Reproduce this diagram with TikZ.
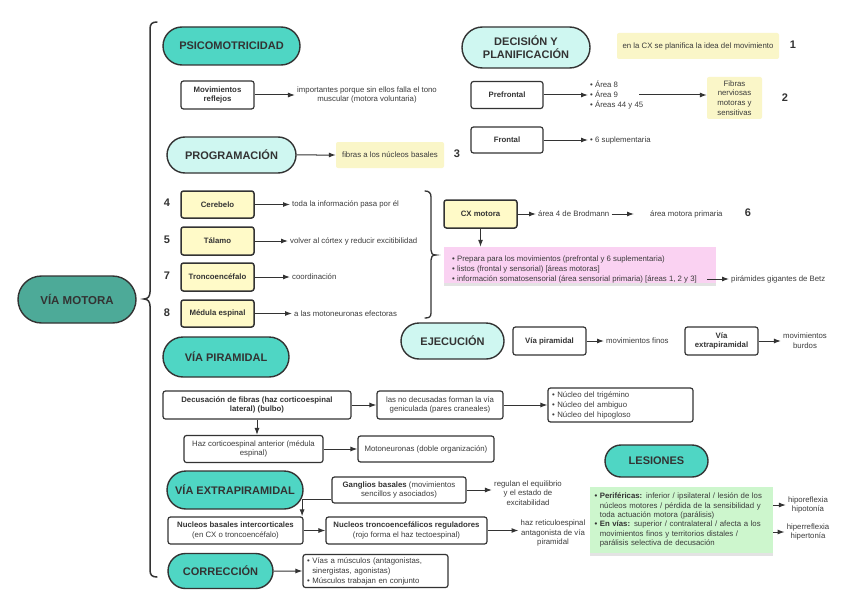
\documentclass[tikz,border=0pt]{standalone}
\usepackage{fontspec}
\setmainfont{Liberation Sans}
\usetikzlibrary{arrows.meta,shapes.misc,shadows}
\definecolor{teal1}{HTML}{4FD6C4}
\definecolor{teal2}{HTML}{4DAA98}
\definecolor{cyanl}{HTML}{CFF7F1}
\definecolor{yel}{HTML}{FFFAC8}
\definecolor{notey}{HTML}{FAF6C8}
\definecolor{pinkb}{HTML}{FAD2F2}
\definecolor{greenb}{HTML}{CDF6CD}
\definecolor{ink}{HTML}{333333}
\definecolor{txt}{HTML}{3C3C3C}
\newcommand{\bodyf}{\fontsize{7.8}{9.6}\selectfont}
\newcommand{\hdrf}{\fontsize{11}{13}\selectfont\bfseries}
\newcommand{\myind}{\phantom{•\ }}
\begin{document}
\begin{tikzpicture}[x=1pt,y=-1pt,
  sz/.style 2 args={minimum width=#1pt, minimum height=#2pt},
  hdr/.style={rounded rectangle, draw=ink, line width=1.4pt, fill=teal1, inner sep=0pt, font=\hdrf, text=ink, align=center},
  hdrl/.style={hdr, fill=cyanl},
  box/.style={rectangle, draw=ink, line width=1.2pt, rounded corners=2.5pt, fill=white, inner sep=1pt, align=center, font=\bodyf, text=txt},
  bbox/.style={box, font=\bodyf\bfseries, text=ink},
  ybox/.style={bbox, fill=yel, line width=1.5pt},
  note/.style={rectangle, fill=notey, rounded corners=2pt, inner sep=1pt, align=center, font=\bodyf, text=txt},
  lbl/.style={font=\bodyf, text=txt, inner sep=2pt, align=center},
  num/.style={font=\hdrf, text=ink, inner sep=0pt},
  arr/.style={draw=ink, line width=1pt, -{Latex[length=7pt,width=5pt]}},
  brace/.style={draw=ink, line width=1.5pt, line cap=round},
  shade/.style={drop shadow={shadow xshift=0pt, shadow yshift=-2.5pt, opacity=0.22}}
]
\fill[white] (0,0) rectangle (848,599);
\useasboundingbox (0,0) rectangle (848,599);

% main node and brace
\node[hdr, fill=teal2, sz={118}{47}, font=\fontsize{11.5}{13}\selectfont\bfseries] (vm) at (77,299.5) {VÍA MOTORA};
\draw[brace] (157,22) .. controls (152,22) and (150,24) .. (150,29) -- (150,292) .. controls (150,296) and (148,299) .. (144,299) .. controls (148,299) and (150,302) .. (150,306) -- (150,570) .. controls (150,575) and (152,577) .. (157,577);

% psicomotricidad
\node[hdr, sz={137}{38}] (psi) at (231.5,46) {PSICOMOTRICIDAD};
\node[bbox, sz={73}{28}] (movref) at (217.5,95) {Movimientos\\reflejos};
\node[lbl] (imp) at (367,95) {importantes porque sin ellos falla el tono\\muscular (motora voluntaria)};
\draw[arr] (movref) -- (imp);

% decision
\node[hdrl, sz={128}{41}] (dec) at (526,47.5) {DECISIÓN Y\\PLANIFICACIÓN};
\node[note, sz={162}{26}] (note1) at (698,46) {en la CX se planifica la idea del movimiento};
\node[num] (n1) at (793,45) {1};
\node[bbox, sz={72}{27}] (pref) at (507,95) {Prefrontal};
\node[lbl, anchor=west, align=left] (areas) at (588,95) {• Área 8\\• Área 9\\• Áreas 44 y 45};
\draw[arr] (pref) -- (areas);
\node[note, sz={55}{42}] (fib) at (734.5,98) {Fibras\\nerviosas\\motoras y\\sensitivas};
\draw[arr] ([xshift=-6pt]areas.east) -- (areas.east -| fib.west);
\node[num] (n2) at (785,98) {2};
\node[bbox, sz={72}{26}] (front) at (507,140) {Frontal};
\node[lbl, anchor=west, align=left] (supl) at (588,140) {• 6 suplementaria};
\draw[arr] (front) -- (supl);

% programacion
\node[hdrl, sz={129}{36}] (prog) at (231.5,155) {PROGRAMACIÓN};
\node[note, sz={108}{26}] (note3) at (390,155) {fibras a los núcleos basales};
\draw[arr] (prog) -- (note3);
\node[num] (n3) at (457,154) {3};

\node[ybox, sz={73}{27}] (cer) at (217.5,204.5) {Cerebelo};
\node[num] (n4) at (167,203) {4};
\node[lbl, anchor=west] (tcer) at (290,204.5) {toda la información pasa por él};
\draw[arr] (cer) -- (tcer);
\node[ybox, sz={73}{28}] (tal) at (217.5,241) {Tálamo};
\node[num] (n5) at (167,240) {5};
\node[lbl, anchor=west] (ttal) at (288,241) {volver al córtex y reducir excitibilidad};
\draw[arr] (tal) -- (ttal);
\node[ybox, sz={73}{28}] (tro) at (217.5,277) {Troncoencéfalo};
\node[num] (n7) at (167,276) {7};
\node[lbl, anchor=west] (ttro) at (290,277) {coordinación};
\draw[arr] (tro) -- (ttro);
\node[ybox, sz={73}{27}] (med) at (217.5,313.5) {Médula espinal};
\node[num] (n8) at (167,313) {8};
\node[lbl, anchor=west] (tmed) at (292,313.5) {a las motoneuronas efectoras};
\draw[arr] (med) -- (tmed);

% right brace
\draw[brace, line width=1.3pt] (425,191) .. controls (429,191) and (431,193) .. (431,197) -- (431,250) .. controls (431,253) and (432,255) .. (436,255) .. controls (432,255) and (431,257) .. (431,260) -- (431,313) .. controls (431,317) and (429,318) .. (425,318);

% CX motora
\node[ybox, sz={73}{28}] (cxm) at (480.5,214) {CX motora};
\node[lbl, anchor=west] (a4) at (536,214) {área 4 de Brodmann};
\draw[arr] (cxm) -- (a4);
\node[lbl, anchor=west] (amp) at (648,214) {área motora primaria};
\draw[arr] (a4) -- ([xshift=-14pt]amp.west);
\node[num] (n6) at (748,213) {6};
\node[rectangle, fill=pinkb, shade, sz={272}{36}, inner sep=0pt] (pink) at (580,265) {};
\node[lbl, align=left, anchor=west, font=\fontsize{7.8}{10}\selectfont] (pinktxt) at (450,269) {• Prepara para los movimientos (prefrontal y 6 suplementaria)\\• listos (frontal y sensorial) [áreas motoras]\\• información somatosensorial (área sensorial primaria) [áreas 1, 2 y 3]};
\draw[arr] (cxm) -- (cxm |- pink.north);
\coordinate (pinkout) at (707,279);
\node[lbl, anchor=west] (betz) at (729,279) {pirámides gigantes de Betz};
\draw[arr] (pinkout) -- (betz);

% ejecucion
\node[hdrl, sz={103}{36}] (ejec) at (452.5,341) {EJECUCIÓN};
\node[bbox, sz={73}{28}] (vpir) at (549.5,341) {Vía piramidal};
\node[lbl, anchor=west] (mf) at (604,341) {movimientos finos};
\draw[arr] (vpir) -- (mf);
\node[bbox, sz={73}{28}] (vext) at (721.5,341) {Vía\\extrapiramidal};
\node[lbl] (mb) at (805,341) {movimientos\\burdos};
\draw[arr] (vext) -- (mb);

% via piramidal
\node[hdr, sz={126}{40}] (vpiral) at (226,357) {VÍA PIRAMIDAL};
\node[bbox, sz={188}{28}] (decus) at (257,405) {Decusación de fibras (haz corticoespinal\\lateral) (bulbo)};
\node[box, sz={126}{28}] (nodec) at (440,405) {las no decusadas forman la vía\\geniculada (pares craneales)};
\draw[arr] (decus) -- (nodec);
\node[box, sz={145}{34}, align=left, text width=137pt, font=\fontsize{7.8}{10}\selectfont] (nuc) at (620.5,405) {• Núcleo del trigémino\\• Núcleo del ambiguo\\• Núcleo del hipogloso};
\draw[arr] (nodec) -- (nuc);
\node[box, sz={139}{27}] (hazant) at (253.5,449) {Haz corticoespinal anterior (médula\\espinal)};
\draw[arr] (decus.south) -- (decus.south |- hazant.north);
\node[box, sz={136}{26}] (moto) at (426,449) {Motoneuronas (doble organización)};
\draw[arr] (hazant) -- (moto);

% via extrapiramidal
\node[hdr, sz={136}{38}] (vextra) at (235,490) {VÍA EXTRAPIRAMIDAL};
\node[box, sz={134}{26}] (gang) at (399,490) {\textbf{\color{ink}Ganglios basales} (movimientos\\sencillos y asociados)};
\node[lbl] (reg) at (528,493) {regulan el equilibrio\\y el estado de\\excitabilidad};
\draw[arr] (gang.east) -- (gang.east -| reg.west);
\node[box, sz={135}{27}] (nbi) at (235.5,530.5) {\textbf{\color{ink}Nucleos basales intercorticales}\\(en CX o troncoencéfalo)};
\node[box, sz={161}{27}] (ntr) at (406.5,530.5) {\textbf{\color{ink}Nucleos troncoencefálicos reguladores}\\(rojo forma el haz tectoespinal)};
\draw[arr] (nbi) -- (ntr);
\node[lbl] (hret) at (553,533) {haz reticuloespinal\\antagonista de vía\\piramidal};
\draw[arr] (ntr.east) -- (ntr.east -| hret.west);
\draw[arr] ([yshift=4pt]gang.south west) -| ([xshift=-1.5pt]nbi.north east);

% correccion
\node[hdr, sz={105}{35}] (corr) at (220.5,571) {CORRECCIÓN};
\node[box, sz={145}{33}, align=left, text width=137pt, font=\fontsize{7.8}{10}\selectfont] (cbox) at (375.5,571) {• Vías a músculos (antagonistas,\\\myind sinergistas, agonistas)\\• Músculos trabajan en conjunto};
\draw[arr] (corr) -- (cbox);

% lesiones
\node[hdr, sz={103}{32}] (les) at (656.5,461) {LESIONES};
\node[rectangle, fill=greenb, shade, sz={183}{66}, inner sep=0pt, align=left, text width=174pt, font=\fontsize{7.8}{9.3}\selectfont, text=txt] (green) at (681.5,520) {\textbf{\color{ink}• Periféricas:} inferior / ipsilateral / lesión de los\\
\myind núcleos motores / pérdida de la sensibilidad y\\
\myind toda actuación motora (parálisis)\\
\textbf{\color{ink}• En vías:} superior / contralateral / afecta a los\\
\myind movimientos finos y territorios distales /\\
\myind parálisis selectiva de decusación};
\node[lbl] (hipo) at (808,505) {hiporeflexia\\hipotonía};
\node[lbl] (hiper) at (808,532) {hiperreflexia\\hipertonía};
\draw[arr] (green.east |- hipo) -- (hipo);
\draw[arr] (green.east |- hiper) -- (hiper);
\end{tikzpicture}
\end{document}
